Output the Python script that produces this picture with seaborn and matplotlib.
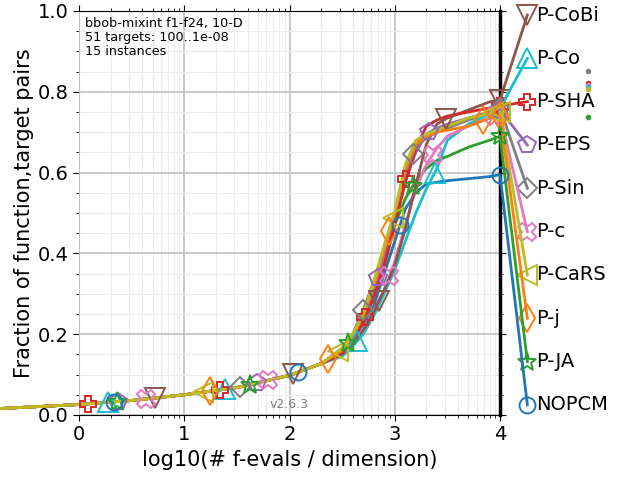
import numpy as np
import pandas as pd
import matplotlib
matplotlib.use("Agg")
import matplotlib.pyplot as plt
import seaborn as sns
from matplotlib.ticker import FixedLocator, FuncFormatter, LogLocator, MultipleLocator

# ---------------- data ----------------
algorithms = ["P-CoBi", "P-Co", "P-SHA", "P-EPS", "P-Sin",
              "P-c", "P-CaRS", "P-j", "P-JA", "NOPCM"]
colors = ["#8c564b", "#17becf", "#d62728", "#9467bd", "#7f7f7f",
          "#e377c2", "#bcbd22", "#ff7f0e", "#2ca02c", "#1f77b4"]
markers = ["v", "^", "P", "p", "D", "X", "<", "d", "*", "o"]
marker_sizes = [14, 14, 12, 13, 10.5, 13, 14, 14, 14, 11.5]

log_evals = [-0.75, 0, 0.5, 1, 1.5, 2, 2.3, 2.5, 2.6, 2.7, 2.8, 2.9,
             3.0, 3.1, 3.2, 3.3, 3.4, 3.5, 3.7, 3.9, 4.0]

low = [0.016, 0.026, 0.036, 0.05, 0.068, 0.098, 0.127]

frac_p_cobi = low + [0.150, 0.175, 0.210, 0.255, 0.310, 0.370, 0.460, 0.570, 0.670, 0.720, 0.735, 0.755, 0.775, 0.780]
frac_p_co   = low + [0.145, 0.170, 0.200, 0.245, 0.300, 0.360, 0.430, 0.500, 0.560, 0.610, 0.680, 0.720, 0.745, 0.760]
frac_p_sha  = low + [0.155, 0.185, 0.230, 0.290, 0.370, 0.470, 0.575, 0.660, 0.715, 0.730, 0.740, 0.750, 0.760, 0.765]
frac_p_eps  = low + [0.160, 0.190, 0.240, 0.305, 0.390, 0.480, 0.580, 0.650, 0.695, 0.710, 0.720, 0.735, 0.750, 0.755]
frac_p_sin  = low + [0.165, 0.200, 0.260, 0.330, 0.410, 0.500, 0.600, 0.665, 0.685, 0.700, 0.710, 0.730, 0.750, 0.760]
frac_p_c    = low + [0.150, 0.175, 0.210, 0.260, 0.310, 0.380, 0.470, 0.560, 0.620, 0.660, 0.690, 0.715, 0.735, 0.745]
frac_p_cars = low + [0.165, 0.200, 0.250, 0.330, 0.420, 0.505, 0.620, 0.680, 0.695, 0.705, 0.715, 0.735, 0.745, 0.750]
frac_p_j    = low + [0.160, 0.195, 0.245, 0.320, 0.410, 0.500, 0.610, 0.670, 0.690, 0.700, 0.705, 0.715, 0.735, 0.740]
frac_p_ja   = low + [0.160, 0.190, 0.235, 0.290, 0.370, 0.470, 0.535, 0.580, 0.610, 0.630, 0.640, 0.663, 0.680, 0.690]
frac_nopcm  = low + [0.155, 0.185, 0.225, 0.270, 0.350, 0.430, 0.510, 0.550, 0.572, 0.576, 0.580, 0.585, 0.590, 0.595]

fractions = [frac_p_cobi, frac_p_co, frac_p_sha, frac_p_eps, frac_p_sin,
             frac_p_c, frac_p_cars, frac_p_j, frac_p_ja, frac_nopcm]

marker_pos = [
    [0.72, 2.03, 2.85, 3.49, 4.0],   # P-CoBi
    [0.28, 1.39, 2.64, 3.38, 4.0],   # P-Co
    [0.085, 1.34, 2.72, 3.11, 4.0],  # P-SHA
    [0.37, 1.69, 2.84, 3.33, 4.0],   # P-EPS
    [1.53, 2.70, 3.17, 4.0],         # P-Sin
    [0.64, 1.80, 2.95, 3.36, 3.95],  # P-c
    [1.18, 2.46, 2.98, 3.93, 4.0],   # P-CaRS
    [1.24, 2.37, 2.95, 3.84, 4.0],   # P-j
    [0.36, 1.62, 2.56, 3.17, 4.0],   # P-JA
    [0.33, 2.08, 3.05, 4.0],         # NOPCM
]

# small dots to the right (values at larger budgets)
dot_values = [0.852, 0.821, 0.817, 0.812, 0.806, 0.737]
dot_colors = ["#7f7f7f", "#d62728", "#e377c2", "#17becf", "#bcbd22", "#2ca02c"]

xtick_labels = ["0", "1", "2", "3", "4"]
yticks = [0.0, 0.2, 0.4, 0.6, 0.8, 1.0]

# ---------------- plot ----------------
fig = plt.figure(figsize=(6.4, 4.8), dpi=100)
ax = fig.add_axes([79 / 640, 1 - 415 / 480, (500 - 79) / 640, (415 - 11) / 480])

rows = []
for name, ys in zip(algorithms, fractions):
    for lx, y in zip(log_evals, ys):
        rows.append({"algorithm": name, "evals": 10 ** lx, "frac": y})
df = pd.DataFrame(rows)
palette = dict(zip(algorithms, colors))

draw_order = ["NOPCM", "P-JA", "P-Co", "P-c", "P-CoBi", "P-EPS",
              "P-SHA", "P-Sin", "P-j", "P-CaRS"]
sns.lineplot(data=df, x="evals", y="frac", hue="algorithm",
             hue_order=draw_order, palette=palette, estimator=None,
             sort=False, legend=False, linewidth=2, clip_on=False, ax=ax)

n = len(algorithms)
label_y = np.linspace(0.99, 0.025, n)
for i, (name, ys, col, mk, ms, mp) in enumerate(zip(algorithms, fractions, colors,
                                                     markers, marker_sizes, marker_pos)):
    mp = np.array(mp)
    my = np.interp(mp, log_evals, ys)
    ax.plot(10 ** mp, my, linestyle="none", marker=mk, markersize=ms,
            markerfacecolor="none", markeredgecolor=col, markeredgewidth=1.4,
            clip_on=False, zorder=3)
    # connector to label
    ax.plot([10 ** log_evals[-1], 10 ** 4.26], [ys[-1], label_y[i]], color=col,
            linewidth=2, clip_on=False, zorder=3)
    ax.plot([10 ** 4.26], [label_y[i]], marker=mk, markersize=ms,
            markerfacecolor="none", markeredgecolor=col, markeredgewidth=1.4,
            clip_on=False, zorder=3)
    ax.text(10 ** 4.345, label_y[i], name, fontsize=14, ha="left", va="center")

for v, c in zip(dot_values, dot_colors):
    ax.plot([10 ** 4.84], [v], marker="o", markersize=3, color=c,
            linestyle="none", clip_on=False)

ax.set_xscale("log")
ax.set_xlim(1, 1e4)
ax.set_ylim(0, 1)
ax.xaxis.set_major_locator(FixedLocator([1, 10, 100, 1000, 10000]))
ax.xaxis.set_major_formatter(FuncFormatter(lambda v, p: xtick_labels[int(round(np.log10(v)))]))
ax.xaxis.set_minor_locator(LogLocator(base=10, subs=np.arange(2, 10)))
ax.yaxis.set_major_locator(FixedLocator(yticks))
ax.yaxis.set_minor_locator(MultipleLocator(0.05))
ax.set_yticklabels([f"{t:.1f}" for t in yticks])

ax.grid(True, which="major", color="#c0c0c0", linewidth=1.2)
ax.grid(True, which="minor", color="#ececec", linewidth=0.8)
ax.set_axisbelow(True)
ax.tick_params(which="both", top=True, right=True, labelsize=14)
ax.tick_params(which="major", length=4)
ax.tick_params(which="minor", length=2.5)
ax.spines["right"].set_linewidth(2.5)
ax.spines["left"].set_color("#c0c0c0")

ax.set_xlabel("log10(# f-evals / dimension)", fontsize=15)
ax.set_ylabel("Fraction of function,target pairs", fontsize=15, labelpad=2.5)

ax.text(0.015, 0.985, "bbob-mixint f1-f24, 10-D\n51 targets: 100..1e-08\n15 instances",
        transform=ax.transAxes, fontsize=9.2, ha="left", va="top", linespacing=1.12)
ax.text(10 ** 2.0, 0.025, "v2.6.3", fontsize=9, color="gray", ha="center", va="center")

fig.savefig("out.png", dpi=100)
